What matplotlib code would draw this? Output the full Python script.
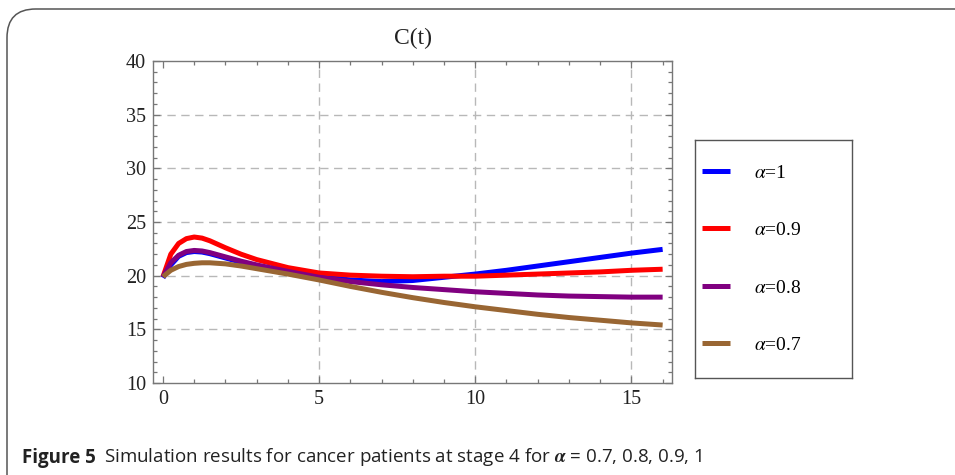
import matplotlib
matplotlib.use("Agg")
import matplotlib.pyplot as plt
from matplotlib.patches import FancyBboxPatch
from matplotlib.ticker import MultipleLocator

plt.rcParams['font.family'] = ['Liberation Serif', 'DejaVu Serif']
plt.rcParams['mathtext.fontset'] = 'stix'

# values
t = [0, 0.25, 0.5, 0.75, 1, 1.25, 1.5, 2, 2.5, 3, 4, 5, 6, 7, 8, 9, 10, 11, 12, 13, 14, 15, 16]
c_a10 = [19.8, 21.0, 21.8, 22.15, 22.25, 22.2, 22.05, 21.65, 21.25, 20.9, 20.35, 19.95, 19.6, 19.45,
         19.55, 19.85, 20.15, 20.5, 20.9, 21.3, 21.7, 22.1, 22.45]
c_a09 = [19.9, 22.0, 23.0, 23.45, 23.6, 23.5, 23.25, 22.6, 22.0, 21.5, 20.75, 20.25, 20.05, 19.95,
         19.9, 19.95, 19.95, 20.05, 20.15, 20.25, 20.35, 20.5, 20.6]
c_a08 = [19.9, 21.2, 21.9, 22.25, 22.35, 22.3, 22.15, 21.75, 21.35, 21.0, 20.4, 19.85, 19.45, 19.15,
         18.9, 18.7, 18.5, 18.35, 18.2, 18.1, 18.05, 18.0, 18.0]
c_a07 = [19.9, 20.5, 20.85, 21.05, 21.15, 21.2, 21.2, 21.1, 20.9, 20.65, 20.15, 19.6, 19.0, 18.45,
         17.95, 17.5, 17.1, 16.75, 16.4, 16.1, 15.85, 15.6, 15.4]
series = [c_a10, c_a09, c_a08, c_a07]
labels = [r'$\alpha$=1', r'$\alpha$=0.9', r'$\alpha$=0.8', r'$\alpha$=0.7']
colors = ['#0000ff', '#ff0000', '#800080', '#996633']
xticks = [0, 5, 10, 15]
yticks = [10, 15, 20, 25, 30, 35, 40]
xgrid = [5, 10, 15]
ygrid = [15, 20, 25, 30, 35]

W, H = 955, 475
fig = plt.figure(figsize=(W / 100, H / 100), dpi=100)

# rounded frame around the figure (open to the right and bottom)
box = FancyBboxPatch((7 / W, -0.2), 1.2, 0.2 + 1 - 9 / H, boxstyle="round,pad=0,rounding_size=0.03",
                     transform=fig.transFigure, fill=False, ec='#555555', lw=1.1, mutation_aspect=W / H)
fig.patches.append(box)

ax = fig.add_axes([153 / W, 1 - 383 / H, (672 - 153) / W, (383 - 61) / H])
gstyle = dict(color='#b8b8b8', ls=(0, (6, 4)), lw=1.0, zorder=0.5)
for g in xgrid:
    ax.axvline(g, **gstyle)
for g in ygrid:
    ax.axhline(g, **gstyle)

lines = []
for y, c, lab in zip(series, colors, labels):
    ln, = ax.plot(t, y, color=c, lw=3.6, label=lab, solid_capstyle='butt')
    lines.append(ln)

ax.set_xlim(-0.32, 16.3)
ax.set_ylim(10, 40)
ax.set_xticks(xticks)
ax.set_yticks(yticks)
ax.xaxis.set_minor_locator(MultipleLocator(1))
ax.yaxis.set_minor_locator(MultipleLocator(1))
ax.tick_params(which='both', direction='in', top=True, right=True, color='#777777', width=0.9)
ax.tick_params(which='major', length=5, labelsize=14.5, pad=5, labelcolor='#222222')
ax.tick_params(which='minor', length=3)
for s in ax.spines.values():
    s.set_color('#777777')
    s.set_linewidth(1.0)
ax.set_title('C(t)', fontsize=17, pad=12, color='#222222')

# legend in its own framed box
lax = fig.add_axes([695 / W, 1 - 378 / H, (852 - 695) / W, (378 - 140) / H])
lax.set_xticks([])
lax.set_yticks([])
for s in lax.spines.values():
    s.set_color('#555555')
    s.set_linewidth(1.0)
lax.legend(lines, labels, loc='center left', bbox_to_anchor=(7 / 157, 0.5), frameon=False,
           fontsize=14, handlelength=1.45, handletextpad=1.2, labelspacing=2.05,
           borderaxespad=0, borderpad=0)

cap1 = fig.text(22 / W, 1 - 463 / H, 'Figure 5', fontsize=13.5, fontweight='bold',
                family='Open Sans', color='#222222', va='baseline')
fig.canvas.draw()
ax.annotate(r'Simulation results for cancer patients at stage 4 for $\boldsymbol{\alpha}$ = 0.7, 0.8, 0.9, 1',
            xy=(1, 0), xycoords=cap1, xytext=(6, 0), textcoords='offset points',
            fontsize=13.5, family='Open Sans', color='#222222', va='bottom', annotation_clip=False)

fig.savefig('out.png', dpi=100)
